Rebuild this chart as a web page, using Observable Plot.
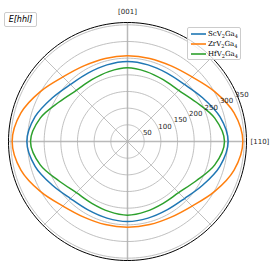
<!DOCTYPE html>
<html><head><meta charset="utf-8">
<script src="https://cdn.jsdelivr.net/npm/d3@7"></script>
<script src="https://cdn.jsdelivr.net/npm/@observablehq/plot@0.6"></script>
<style>
html,body{margin:0;padding:0;background:#fff;}
#wrap{position:relative;width:274px;height:268px;overflow:hidden;}
#wrap > svg{position:absolute;left:0;top:0;}
.box{position:absolute;background:rgba(255,255,255,0.8);border:1px solid #cccccc;border-radius:2px;box-sizing:border-box;}
#title{left:4px;top:12px;width:33px;height:15px;font-family:"DejaVu Sans";font-style:italic;font-size:8px;line-height:13px;text-align:center;}
#legend{left:187px;top:27px;width:54px;height:33px;}
.row{position:absolute;left:0;height:10px;width:54px;}
.sw{position:absolute;left:3px;top:3px;}
.lab{position:absolute;left:20px;top:0;font-family:"DejaVu Serif";font-size:7px;line-height:10px;white-space:nowrap;}
.lab sub{font-size:5px;vertical-align:-1.5px;line-height:0;}
</style></head>
<body><div id="wrap"></div>
<script>
// Angles measured from [110] (horizontal) towards [001] (vertical), one quadrant
const angles = [0, 15, 30, 45, 60, 75, 90];
const compounds = ["ScV2Ga4", "ZrV2Ga4", "HfV2Ga4"];
const scV2Ga4 = [302, 287, 261, 242, 237, 238, 240];
const zrV2Ga4 = [346, 331, 301, 274, 262, 258, 257];
const hfV2Ga4 = [291, 271, 237, 217, 214, 217, 221];
const ringTicks = [50, 100, 150, 200, 250, 300, 350];
const directionLabels = ["[110]", "[001]"];
const spokeAngles = [0, 45, 90, 135, 180, 225, 270, 315];
const colors = ["#1f77b4", "#ff7f0e", "#2ca02c"];
const titleText = "E[hhl]";
const rMax = 357;
const rLabelAngle = 22.5;

const rad = d => d * Math.PI / 180;
const seriesValues = [scV2Ga4, zrV2Ga4, hfV2Ga4];

// full loop from the quadrant readings (mirror symmetry of the (hhl) plane)
function fullLoop(vals, name) {
  const pts = [];
  const n = angles.length - 1;
  for (let q = 0; q < 4; q++) {
    for (let i = 0; i < n; i++) {
      const idx = (q % 2 === 0) ? i : n - i;
      pts.push({name, a: q * 90 + angles[i], r: vals[idx]});
    }
  }
  return pts;
}
const curves = compounds.flatMap((c, k) => fullLoop(seriesValues[k], c));

const circleSamples = d3.range(0, 360, 2);
const ringPts = ringTicks.flatMap(r => circleSamples.map(a => ({ring: r, a, r})));
const outerPts = circleSamples.map(a => ({a, r: rMax}));
const spokes = spokeAngles.map(a => ({a}));
const axesSpokes = [0, 90, 180, 270].map(a => ({a}));

const px = d => d.r * Math.cos(rad(d.a));
const py = d => d.r * Math.sin(rad(d.a));

const chart = Plot.plot({
  width: 274, height: 268,
  marginLeft: 8, marginRight: 28, marginTop: 22, marginBottom: 8,
  x: {domain: [-rMax, rMax], axis: null},
  y: {domain: [-rMax, rMax], axis: null},
  color: {domain: compounds, range: colors},
  style: {background: "transparent", fontFamily: "DejaVu Sans", overflow: "visible"},
  marks: [
    Plot.link(axesSpokes, {x1: 0, y1: 0, x2: d => rMax * Math.cos(rad(d.a)), y2: d => rMax * Math.sin(rad(d.a)), stroke: "#dcdcdc", strokeWidth: 2}),
    Plot.link(spokes, {x1: 0, y1: 0, x2: d => rMax * Math.cos(rad(d.a)), y2: d => rMax * Math.sin(rad(d.a)), stroke: "#b0b0b0", strokeWidth: 0.8}),
    Plot.line(ringPts, {x: px, y: py, z: "ring", stroke: "#b0b0b0", strokeWidth: 0.8, curve: "linear-closed"}),
    Plot.line(outerPts, {x: px, y: py, stroke: "#000", strokeWidth: 1, curve: "linear-closed"}),
    Plot.line(curves, {x: px, y: py, z: "name", stroke: "name", strokeWidth: 1.5, curve: "catmull-rom-closed"}),
    Plot.text(ringTicks, {x: r => r * Math.cos(rad(rLabelAngle)), y: r => r * Math.sin(rad(rLabelAngle)), text: r => String(r), textAnchor: "start", lineAnchor: "bottom", fontSize: 7, fill: "#262626"}),
    Plot.text([0], {x: () => rMax, y: 0, text: () => directionLabels[0], textAnchor: "start", dx: 4, fontSize: 7, fill: "#262626"}),
    Plot.text([0], {x: 0, y: () => rMax, text: () => directionLabels[1], lineAnchor: "bottom", dy: -9, fontSize: 7, fill: "#262626"})
  ]
});
const wrap = document.getElementById("wrap");
wrap.appendChild(chart);

// title box
const t = document.createElement("div");
t.className = "box"; t.id = "title"; t.textContent = titleText;
wrap.appendChild(t);

// legend
const lg = document.createElement("div");
lg.className = "box"; lg.id = "legend";
compounds.forEach((c, k) => {
  const row = document.createElement("div");
  row.className = "row"; row.style.top = (1 + k * 10) + "px";
  row.innerHTML =
    `<svg class="sw" width="15" height="4"><line x1="0" x2="15" y1="2" y2="2" stroke="${colors[k]}" stroke-width="1.6"/></svg>` +
    `<div class="lab">${c.replace(/(\d)/g, "<sub>$1</sub>")}</div>`;
  lg.appendChild(row);
});
wrap.appendChild(lg);
</script>
</body></html>
